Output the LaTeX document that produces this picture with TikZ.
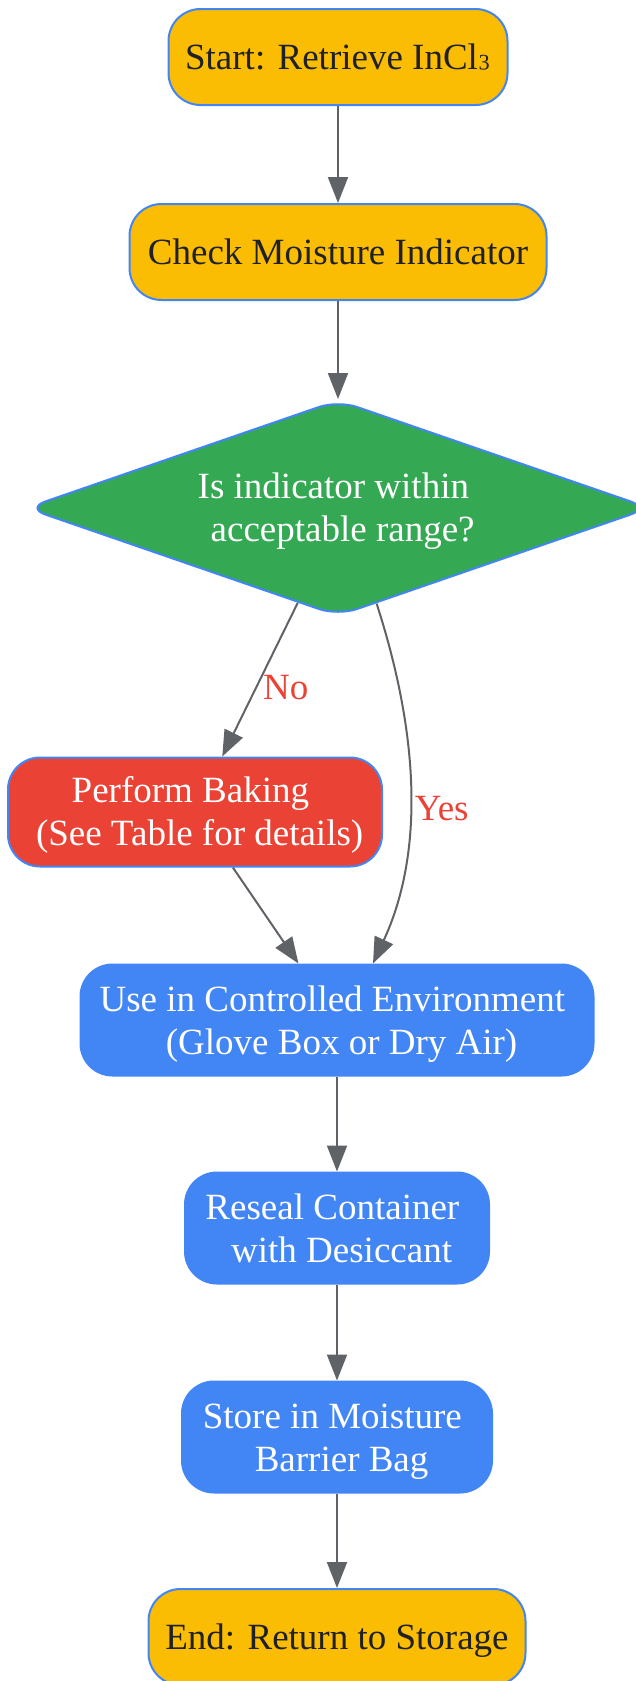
\documentclass[tikz,border=0pt]{standalone}
\usepackage{fontspec}
\setmainfont{Liberation Serif}
\usetikzlibrary{arrows.meta,shapes.geometric}
\definecolor{gyellow}{HTML}{FBBC04}
\definecolor{ggreen}{HTML}{34A853}
\definecolor{gred}{HTML}{EA4335}
\definecolor{gblue}{HTML}{4285F4}
\definecolor{ggray}{HTML}{5F6368}
\definecolor{gtext}{HTML}{202124}
\newcommand{\lh}{\rule[-.216em]{0pt}{1.107em}}
\newcommand{\brk}{\kern.25em\\\kern.25em}
\begin{document}
\begin{tikzpicture}[x=0.5pt,y=0.5pt,
        box/.style={draw=gblue,line width=1pt,rounded corners=16pt,align=center,inner sep=0pt,
            font=\fontsize{18.5}{21.5}\selectfont},
        term/.style={box,fill=gyellow,text=gtext,minimum height=48pt},
        work/.style={box,fill=gblue,text=white,minimum height=55.5pt},
        flow/.style={draw=ggray,line width=1pt,-{Triangle[length=13pt,width=10pt]}},
        lbl/.style={text=gred,inner sep=1pt,font=\fontsize{18.5}{21.5}\selectfont}]
        \useasboundingbox (0,0) rectangle (636,-1681);
        \clip (0,0) rectangle (636,-1681);
        \node[term,minimum width=169.5pt] (start) at (338,-57) {\lh Start: Retrieve InCl\raisebox{.2em}{₃}};
        \node[term,minimum width=208.5pt] (check) at (338,-252) {\lh Check Moisture Indicator};
        \node[diamond,aspect=2.83,draw=gblue,line width=1pt,fill=ggreen,text=white,rounded corners=10pt,
            minimum width=312pt,minimum height=108pt,inner sep=0pt,align=center,
            font=\fontsize{18.5}{21.5}\selectfont] (ask) at (338,-508) {\lh Is indicator within\brk acceptable range?\lh};
        \node[box,fill=gred,text=white,minimum width=187pt,minimum height=54.5pt] (bake) at (195,-812) {\lh Perform Baking\brk(See Table for details)\lh};
        \node[work,minimum width=256.5pt] (use) at (337,-1020) {\lh Use in Controlled Environment\brk(Glove Box or Dry Air)\lh};
        \node[work,minimum width=152pt] (reseal) at (337,-1228) {\lh Reseal Container\brk with Desiccant\lh};
        \node[work,minimum width=155pt] (store) at (337,-1437) {\lh Store in Moisture\brk Barrier Bag\lh};
        \node[term,minimum width=188.5pt] (finish) at (337,-1637) {\lh End: Return to Storage};
        \draw[flow] (start) -- (check);
        \draw[flow] (check) -- (ask);
        \draw[flow] (ask.-113) -- node[lbl,pos=0.55,right=2pt] {No} (bake);
        \draw[flow] (ask.-68) .. controls +(44,-136) and +(50,108) .. node[lbl,pos=0.54,right=1pt] {Yes} ([xshift=18pt]use.north);
        \draw[flow] (bake) -- (use);
        \draw[flow] (use) -- (reseal);
        \draw[flow] (reseal) -- (store);
        \draw[flow] (store) -- (finish);
    \end{tikzpicture}
\end{document}
